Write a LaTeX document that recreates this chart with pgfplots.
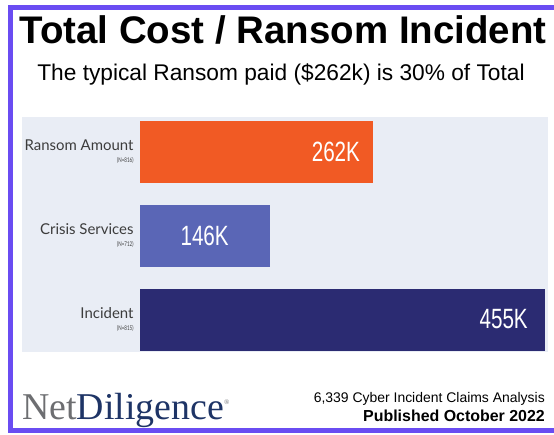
\documentclass[border=0pt]{standalone}
\usepackage{pgfplots}
\pgfplotsset{compat=1.18}
\usepackage{graphicx}
\usepackage{fontspec}
\setmainfont{Liberation Sans}
\newfontfamily\latofont{Lato}
\newfontfamily\logofont{Liberation Serif}
\definecolor{framepurple}{HTML}{6A4CF2}
\definecolor{panel}{HTML}{E9EDF5}
\definecolor{orangeC}{HTML}{F15A24}
\definecolor{crisisC}{HTML}{5A66B6}
\definecolor{incidentC}{HTML}{2B2B72}
\definecolor{labelgray}{HTML}{3C3C3C}
\definecolor{logogray}{HTML}{6D6E71}
\definecolor{logonavy}{HTML}{1E3466}
\newcommand{\vlab}[1]{\scalebox{0.74}[1]{\fontsize{28}{28}\selectfont #1}}
\newcommand{\nlab}[1]{{\scalebox{0.7}[1]{\fontsize{6.5}{6.5}\selectfont #1}}}
\begin{document}
\begin{tikzpicture}
\useasboundingbox (0,0) rectangle (554bp,-435bp);
\fill[white] (0,0) rectangle (554bp,-435bp);
\draw[framepurple, line width=5bp] (10.5bp,-7bp) rectangle (600bp,-430.5bp);
\fill[panel] (22bp,-117bp) rectangle (548bp,-352bp);
\node[anchor=base, inner sep=0pt, font=\fontsize{38.6}{38.6}\selectfont\bfseries] at (283bp,-43bp) {Total Cost / Ransom Incident};
\node[anchor=base, inner sep=0pt, font=\fontsize{22.8}{23}\selectfont] at (281bp,-80bp) {The typical Ransom paid (\$262k) is 30\% of Total};
\begin{axis}[
  at={(140bp,-352bp)}, anchor=south west,
  scale only axis, width=408bp, height=235bp,
  xbar, bar width=62bp, bar shift=0pt,
  xmin=0, xmax=458.4, ymin=-0.388, ymax=2.418,
  axis line style={draw=none}, major tick length=0pt,
  xtick=\empty, ytick={0,1,2},
  yticklabels={
    {Incident\\[-3pt]\nlab{(N=815)}},
    {Crisis Services\\[-3pt]\nlab{(N=712)}},
    {Ransom Amount\\[-3pt]\nlab{(N=816)}}},
  yticklabel style={align=right, anchor=east, xshift=-3bp, font=\latofont\fontsize{15}{15}\selectfont, text=labelgray},
]
\addplot[fill=orangeC, draw=none, nodes near coords={\vlab{262K}},
  nodes near coords style={anchor=east, xshift=-13bp, text=white, inner sep=0pt}] coordinates {(262,2)};
\addplot[fill=crisisC, draw=none, nodes near coords={\vlab{146K}},
  nodes near coords style={anchor=east, xshift=-41bp, text=white, inner sep=0pt}] coordinates {(146,1)};
\addplot[fill=incidentC, draw=none, nodes near coords={\vlab{455K}},
  nodes near coords style={anchor=east, xshift=-17bp, text=white, inner sep=0pt}] coordinates {(455,0)};
\end{axis}
\node[anchor=base west, inner sep=0pt, font=\logofont\fontsize{38}{38}\selectfont] at (22bp,-419bp) {\textcolor{logogray}{Net}\textcolor{logonavy}{Diligence}\textcolor{logogray}{\raisebox{15bp}{\fontsize{7}{7}\selectfont\textregistered}}};
\node[anchor=base east, inner sep=0pt, font=\fontsize{14}{14}\selectfont] at (545bp,-402bp) {6,339 Cyber Incident Claims Analysis};
\node[anchor=base east, inner sep=0pt, font=\fontsize{16}{16}\selectfont\bfseries] at (545bp,-421bp) {Published October 2022};
\end{tikzpicture}
\end{document}
